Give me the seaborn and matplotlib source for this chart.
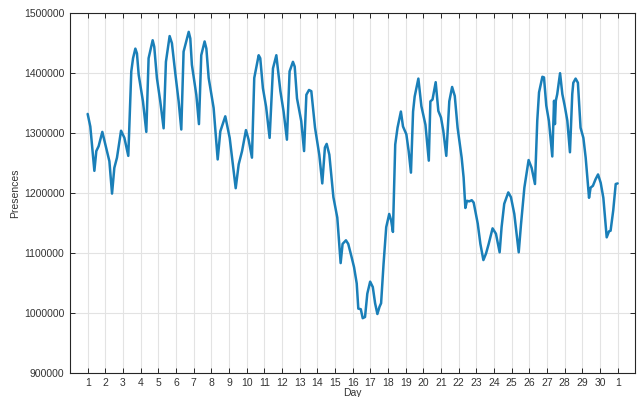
import matplotlib
matplotlib.use("Agg")
import matplotlib.pyplot as plt
import seaborn as sns
import pandas as pd

# Position along the month (in days) and presences (in thousands)
day_pos = [1.00, 1.15, 1.38, 1.49, 1.62, 1.83, 2.09, 2.23, 2.38, 2.51, 2.66, 2.89, 3.08, 3.30,
           3.47, 3.57, 3.70, 3.79, 3.89, 4.13, 4.32, 4.45, 4.68, 4.77, 4.92, 5.11, 5.30, 5.43,
           5.64, 5.77, 5.96, 6.15, 6.30, 6.43, 6.72, 6.81, 6.90, 7.15, 7.30, 7.43, 7.62, 7.72,
           7.85, 8.13, 8.36, 8.51, 8.79, 9.04, 9.38, 9.55, 9.74, 9.96, 10.11, 10.30, 10.43,
           10.68, 10.77, 10.92, 11.10, 11.30, 11.49, 11.68, 11.91, 12.09, 12.28, 12.43, 12.62,
           12.72, 12.85, 13.09, 13.25, 13.38, 13.53, 13.66, 13.87, 14.11, 14.28, 14.43, 14.53,
           14.68, 14.91, 15.13, 15.32, 15.43, 15.62, 15.75, 15.94, 16.08, 16.23, 16.32, 16.46,
           16.57, 16.70, 16.83, 16.99, 17.14, 17.27, 17.40, 17.52, 17.61, 17.75, 17.90, 18.07,
           18.18, 18.28, 18.41, 18.54, 18.73, 18.85, 19.04, 19.17, 19.30, 19.42, 19.51, 19.72,
           19.89, 20.12, 20.31, 20.40, 20.52, 20.70, 20.85, 21.00, 21.13, 21.30, 21.47, 21.63,
           21.78, 21.94, 22.17, 22.28, 22.38, 22.47, 22.60, 22.74, 22.85, 23.08, 23.23, 23.40,
           23.55, 23.70, 23.92, 24.11, 24.32, 24.43, 24.58, 24.81, 24.96, 25.15, 25.40, 25.53,
           25.72, 25.96, 26.13, 26.32, 26.45, 26.55, 26.74, 26.83, 26.96, 27.11, 27.30, 27.40,
           27.45, 27.50, 27.58, 27.74, 27.87, 28.00, 28.15, 28.30, 28.43, 28.49, 28.62, 28.75,
           28.90, 29.06, 29.19, 29.38, 29.47, 29.60, 29.75, 29.89, 30.04, 30.19, 30.38, 30.51,
           30.60, 30.75, 30.89, 31.00]

presences_k = [1332, 1311, 1237, 1270, 1278, 1302, 1270, 1253, 1199, 1242, 1259, 1304, 1292, 1262,
               1403, 1425, 1441, 1433, 1397, 1353, 1302, 1425, 1455, 1444, 1392, 1353, 1308, 1419,
               1462, 1450, 1400, 1353, 1306, 1436, 1469, 1458, 1414, 1364, 1315, 1430, 1453, 1441,
               1392, 1342, 1256, 1303, 1328, 1292, 1208, 1248, 1270, 1305, 1289, 1259, 1392,
               1430, 1425, 1375, 1344, 1292, 1408, 1430, 1370, 1336, 1289, 1403, 1419,
               1411, 1358, 1320, 1270, 1364, 1372, 1370, 1309, 1264, 1216, 1276, 1282,
               1264, 1193, 1159, 1083, 1115, 1121, 1115, 1093, 1076, 1049, 1007, 1006,
               991, 993, 1032, 1052, 1043, 1016, 998, 1010, 1016, 1082, 1143, 1165,
               1154, 1135, 1281, 1309, 1336, 1311, 1298, 1270, 1234, 1336, 1361, 1391,
               1345, 1314, 1254, 1353, 1356, 1385, 1337, 1326, 1304, 1262, 1353, 1377,
               1362, 1309, 1259, 1226, 1175, 1187, 1186, 1188, 1184, 1149, 1115, 1088,
               1099, 1115, 1141, 1132, 1101, 1143, 1182, 1201, 1193, 1165, 1101, 1148,
               1209, 1255, 1242, 1215, 1321, 1368, 1394, 1393, 1346, 1320, 1261, 1354,
               1315, 1354, 1365, 1400, 1365, 1346, 1321, 1268, 1365, 1384, 1391, 1384,
               1309, 1292, 1259, 1192, 1209, 1212, 1223, 1231, 1217, 1192, 1126, 1136,
               1137, 1171, 1215, 1216]

x_ticks = list(range(1, 32))
x_tick_labels = [str(d) for d in range(1, 31)] + ["1"]
y_ticks = [900000, 1000000, 1100000, 1200000, 1300000, 1400000, 1500000]

df = pd.DataFrame({"Day": day_pos, "Presences": [v * 1000 for v in presences_k]})

sns.set_theme(style="whitegrid")
plt.rcParams["font.family"] = ["Liberation Sans", "DejaVu Sans"]

fig = plt.figure(figsize=(6.38, 3.97), dpi=100)
ax = fig.add_axes([0.1097, 0.0612, 0.8861, 0.9053])

sns.lineplot(data=df, x="Day", y="Presences", ax=ax, color="#1a7fb8",
             linewidth=1.8, sort=False, estimator=None)
for ln in ax.lines:
    ln.set_solid_joinstyle("round")
    ln.set_solid_capstyle("round")

ax.set_xlim(0, 32)
ax.set_ylim(900000, 1500000)
ax.set_xticks(x_ticks)
ax.set_xticklabels(x_tick_labels)
ax.set_yticks(y_ticks)
ax.set_yticklabels([str(v) for v in y_ticks])

ax.set_facecolor("white")
ax.grid(True, color="#e3e3e3", linewidth=0.8)
for s in ax.spines.values():
    s.set_visible(True)
    s.set_color("#262626")
    s.set_linewidth(0.8)

ax.tick_params(axis="both", which="major", direction="in", length=3.5, width=0.7,
               colors="#262626", labelsize=7.5, labelcolor="#333333",
               top=True, right=True, bottom=True, left=True,
               labeltop=False, labelright=False)
ax.tick_params(axis="x", pad=3.5)
ax.tick_params(axis="y", pad=4)

ax.set_xlabel("Day", fontsize=7.5, color="#333333", labelpad=0)
ax.set_ylabel("Presences", fontsize=7.5, color="#333333", labelpad=3)

fig.savefig("out.png", dpi=100)
